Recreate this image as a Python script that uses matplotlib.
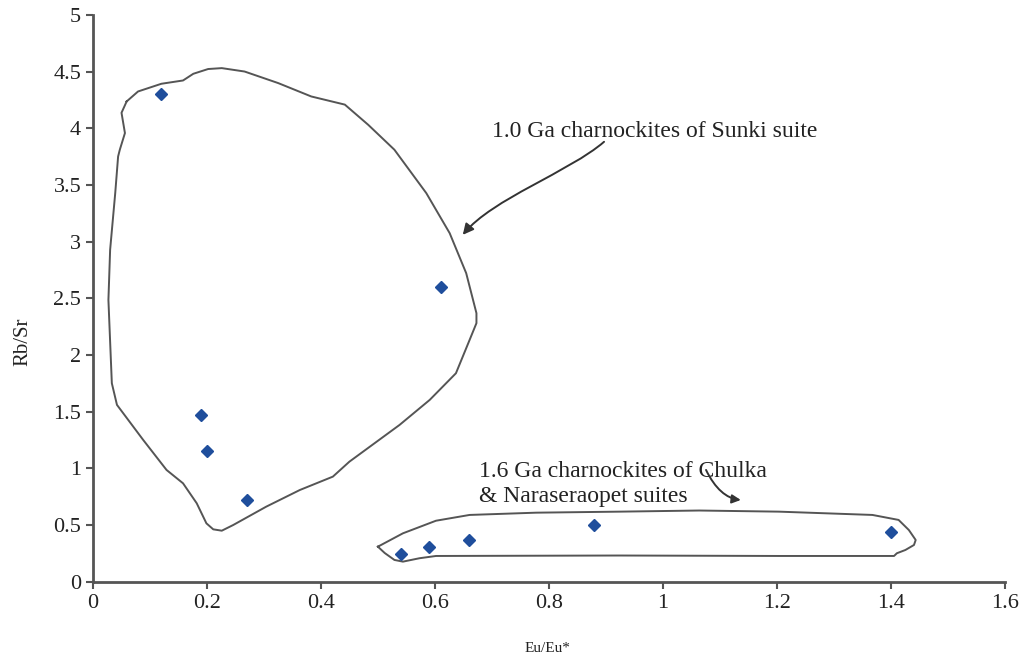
import matplotlib
matplotlib.use("Agg")
import matplotlib.pyplot as plt
from matplotlib.patches import FancyArrowPatch
from matplotlib.path import Path

plt.rcParams['font.family'] = ['Liberation Serif', 'DejaVu Serif']

# Data points (Eu/Eu*, Rb/Sr)
eu_ratio = [0.12, 0.61, 0.19, 0.20, 0.27, 0.54, 0.59, 0.66, 0.88, 1.40]
rb_sr = [4.30, 2.60, 1.47, 1.15, 0.72, 0.24, 0.31, 0.37, 0.50, 0.44]

# Hand-drawn field outlines (data coordinates)
sunki_x = [0.059, 0.079, 0.120, 0.158, 0.176, 0.202, 0.226, 0.266, 0.325, 0.383,
           0.442, 0.483, 0.529, 0.585, 0.626, 0.655, 0.673, 0.673, 0.661, 0.649,
           0.637, 0.591, 0.538, 0.450, 0.421, 0.363, 0.304, 0.246, 0.226, 0.211,
           0.199, 0.182, 0.158, 0.129, 0.088, 0.042, 0.033, 0.027, 0.030, 0.039,
           0.044, 0.047, 0.056, 0.050, 0.059]
sunki_y = [4.237, 4.325, 4.393, 4.422, 4.481, 4.523, 4.531, 4.501, 4.399, 4.281,
           4.209, 4.031, 3.811, 3.428, 3.075, 2.722, 2.369, 2.281, 2.133, 1.986,
           1.839, 1.604, 1.383, 1.059, 0.927, 0.809, 0.662, 0.500, 0.450, 0.462,
           0.515, 0.692, 0.868, 0.986, 1.251, 1.560, 1.751, 2.486, 2.928, 3.431,
           3.751, 3.811, 3.958, 4.137, 4.237]

chulka_x = [0.500, 0.544, 0.602, 0.661, 0.778, 0.924, 1.064, 1.204, 1.368, 1.414,
            1.432, 1.444, 1.441, 1.426, 1.411, 1.406, 1.204, 0.924, 0.602, 0.573,
            0.544, 0.529, 0.512, 0.500]
chulka_y = [0.309, 0.427, 0.538, 0.589, 0.609, 0.618, 0.628, 0.618, 0.589, 0.545,
            0.456, 0.368, 0.324, 0.280, 0.251, 0.227, 0.227, 0.231, 0.227, 0.207,
            0.177, 0.192, 0.253, 0.309]

# Curved pointer paths (data coordinates)
sunki_arrow_x = [0.897, 0.836, 0.701, 0.649]
sunki_arrow_y = [3.881, 3.616, 3.378, 3.060]
chulka_arrow_x = [1.076, 1.092, 1.112, 1.137]
chulka_arrow_y = [0.986, 0.820, 0.735, 0.721]

x_ticks = [0, 0.2, 0.4, 0.6, 0.8, 1, 1.2, 1.4, 1.6]
x_tick_labels = ['0', '0.2', '0.4', '0.6', '0.8', '1', '1.2', '1.4', '1.6']
y_ticks = [0, 0.5, 1, 1.5, 2, 2.5, 3, 3.5, 4, 4.5, 5]
y_tick_labels = ['0', '0.5', '1', '1.5', '2', '2.5', '3', '3.5', '4', '4.5', '5']

label_sunki = '1.0 Ga charnockites of Sunki suite'
label_chulka_1 = '1.6 Ga charnockites of Chulka'
label_chulka_2 = '& Naraseraopet suites'

fig = plt.figure(figsize=(10.28, 6.59), dpi=100)
ax = fig.add_axes([0.0905, 0.1173, 0.8867, 0.8600])

ax.plot(sunki_x, sunki_y, color='#555555', lw=1.4, zorder=2)
ax.plot(chulka_x, chulka_y, color='#555555', lw=1.4, zorder=2)
ax.plot(eu_ratio, rb_sr, linestyle='none', marker='D', markersize=6.5,
        color='#1f4e9c', zorder=3)

ax.set_xlim(0, 1.6)
ax.set_ylim(0, 5)
ax.set_xticks(x_ticks)
ax.set_xticklabels(x_tick_labels)
ax.set_yticks(y_ticks)
ax.set_yticklabels(y_tick_labels)
ax.tick_params(axis='both', direction='out', length=5, width=1.5,
               colors='#555555', labelcolor='#222222', labelsize=16)
for side in ('top', 'right'):
    ax.spines[side].set_visible(False)
for side in ('left', 'bottom'):
    ax.spines[side].set_color('#555555')
    ax.spines[side].set_linewidth(2)

ax.set_ylabel('Rb/Sr', fontsize=15, color='#222222')
ax.yaxis.set_label_coords(-0.0768, 0.423)
ax.yaxis.label.set_verticalalignment('center')
ax.set_xlabel('Eu/Eu*', fontsize=11, color='#222222')
ax.xaxis.set_label_coords(0.499, -0.117)
ax.xaxis.label.set_verticalalignment('center')

ax.text(0.701, 3.97, label_sunki, fontsize=17, color='#222222',
        va='center', ha='left')
ax.text(0.678, 0.971, label_chulka_1, fontsize=17, color='#222222',
        va='center', ha='left')
ax.text(0.678, 0.750, label_chulka_2, fontsize=17, color='#222222',
        va='center', ha='left')

codes = [Path.MOVETO, Path.CURVE4, Path.CURVE4, Path.CURVE4]
arr1 = FancyArrowPatch(path=Path(list(zip(sunki_arrow_x, sunki_arrow_y)), codes),
                       arrowstyle='-|>', color='#333333', lw=1.4,
                       mutation_scale=16, transform=ax.transData, zorder=4)
ax.add_patch(arr1)
arr2 = FancyArrowPatch(path=Path(list(zip(chulka_arrow_x, chulka_arrow_y)), codes),
                       arrowstyle='-|>', color='#333333', lw=1.4,
                       mutation_scale=13, transform=ax.transData, zorder=4)
ax.add_patch(arr2)

fig.savefig('out.png', dpi=100, facecolor='white')
